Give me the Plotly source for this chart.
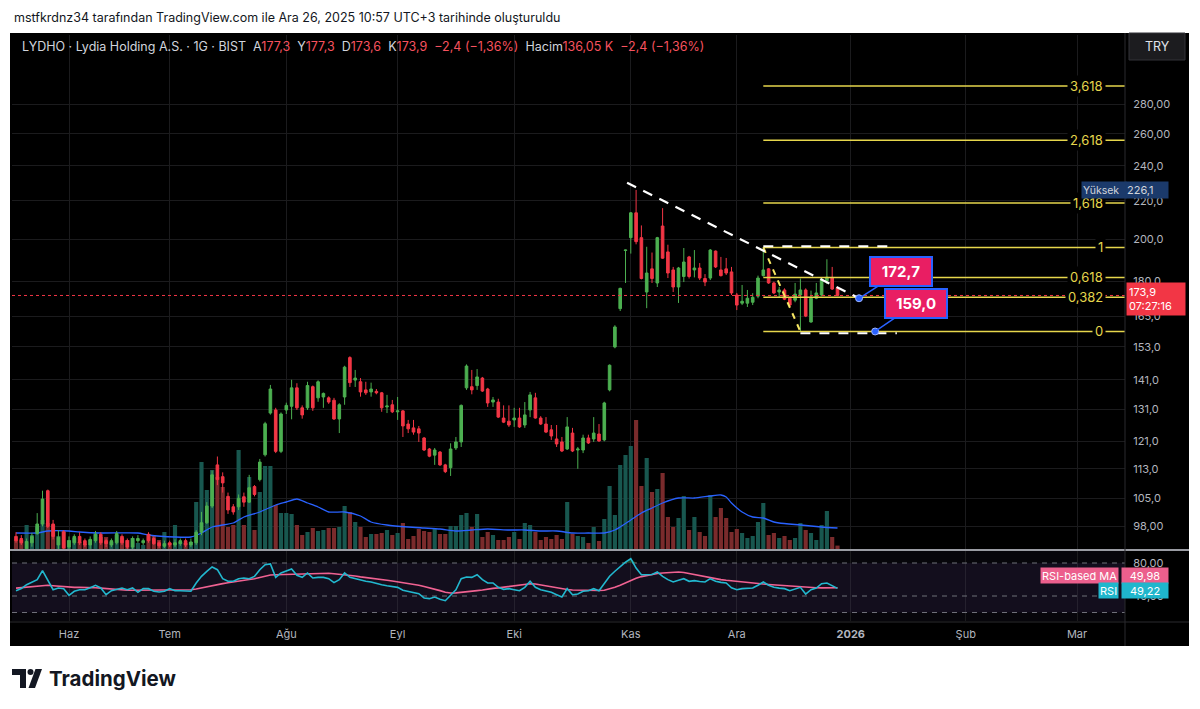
import numpy as np
import plotly.graph_objects as go

# ---------------- data ----------------
opens = [95.5, 95.0, 92.6, 94.0, 96.2, 98.5, 107.0, 98.5, 93.5, 96.6,
         93.0, 94.0, 95.5, 94.5, 93.5, 94.5, 96.0, 94.5, 93.5, 94.0,
         95.5, 94.5, 93.0, 94.5, 94.0, 96.0, 95.0, 94.0, 93.2, 94.0,
         93.5, 93.8, 94.5, 93.5, 94.0, 96.5, 98.8, 103.0, 114.1, 110.8,
         105.5, 102.8, 102.8, 105.4, 104.0, 108.1, 110.0, 117.0, 129.8, 130.8,
         118.0, 130.8, 132.0, 138.2, 131.5, 131.5, 138.6, 134.8, 135.1, 134.8,
         134.0, 127.9, 135.1, 149.0, 140.9, 140.3, 137.5, 136.8, 137.0, 136.5,
         131.8, 132.5, 130.2, 130.5, 126.3, 125.1, 124.8, 122.0, 118.7, 116.9,
         117.8, 114.1, 113.3, 119.0, 120.8, 138.2, 138.6, 139.0, 141.6, 137.8,
         133.4, 133.4, 128.2, 127.2, 127.6, 128.2, 126.0, 130.8, 134.8, 128.2,
         126.3, 124.5, 121.7, 120.8, 118.7, 123.5, 118.4, 118.4, 122.0, 121.7,
         123.2, 121.4, 137.5, 153.0, 168.3, 194.5, 200.8, 213.6, 200.8, 175.4,
         185.8, 179.4, 206.7, 193.8, 185.3, 177.6, 182.3, 191.4, 185.3, 186.2,
         181.4, 181.6, 194.2, 185.3, 185.8, 184.4, 174.1, 170.6, 170.6, 171.0,
         173.6, 182.7, 185.8, 179.4, 175.4, 176.3, 172.7, 171.9, 174.1, 176.3,
         162.8, 172.7, 174.1, 180.3, 181.9, 177.3]
highs = [96.5, 95.8, 95.0, 96.3, 101.2, 107.0, 107.3, 99.5, 97.0, 97.0,
         95.5, 96.0, 96.5, 95.0, 95.5, 96.8, 96.5, 95.0, 95.0, 96.8,
         96.0, 95.0, 95.5, 95.8, 95.0, 96.5, 95.5, 94.5, 94.5, 94.5,
         94.8, 95.0, 95.0, 95.0, 97.0, 101.5, 104.0, 112.5, 116.5, 112.0,
         106.5, 103.5, 106.0, 106.5, 111.3, 108.5, 115.8, 127.0, 139.2, 131.5,
         130.0, 133.2, 141.0, 139.8, 132.3, 140.3, 139.0, 140.8, 136.6, 135.3,
         134.8, 133.0, 146.0, 149.5, 144.5, 141.6, 140.3, 140.0, 137.8, 136.8,
         135.8, 134.1, 135.1, 130.8, 127.6, 127.6, 125.7, 122.3, 119.0, 119.0,
         118.1, 114.4, 120.4, 122.3, 132.6, 146.5, 144.5, 144.8, 142.0, 138.2,
         135.1, 134.5, 132.3, 132.3, 131.5, 131.5, 133.4, 136.8, 136.5, 128.8,
         128.5, 126.0, 126.0, 122.3, 128.5, 125.1, 119.3, 123.0, 123.0, 128.5,
         126.3, 133.5, 146.5, 161.5, 177.3, 194.9, 214.0, 226.1, 207.0, 196.3,
         193.5, 201.2, 216.1, 197.3, 186.7, 186.7, 195.7, 191.9, 194.7, 188.5,
         183.4, 195.2, 194.5, 191.4, 190.9, 186.7, 175.0, 178.5, 176.3, 174.9,
         182.7, 196.0, 186.2, 180.0, 177.6, 177.0, 173.1, 179.4, 181.4, 177.0,
         176.0, 179.4, 181.6, 190.3, 186.7, 177.3]
lows = [94.0, 93.5, 92.3, 93.1, 95.9, 97.9, 97.5, 94.8, 92.5, 92.4,
        92.5, 93.5, 93.5, 93.0, 92.6, 94.0, 93.5, 93.0, 93.0, 93.6,
        93.5, 92.5, 92.5, 94.0, 93.5, 94.0, 93.5, 92.8, 92.8, 93.0,
        93.0, 93.3, 93.0, 93.0, 93.5, 95.8, 98.5, 102.5, 108.5, 106.5,
        101.0, 100.8, 102.0, 102.8, 103.8, 105.5, 109.5, 116.5, 129.3, 117.5,
        117.5, 129.5, 127.8, 130.8, 128.0, 130.8, 130.5, 133.5, 131.5, 132.8,
        127.6, 123.5, 132.5, 138.5, 138.5, 135.2, 135.8, 135.2, 136.0, 130.2,
        129.8, 129.8, 127.6, 122.3, 123.5, 123.0, 120.8, 118.1, 116.3, 114.1,
        113.8, 111.8, 111.0, 118.4, 119.3, 137.5, 136.0, 137.5, 136.8, 131.8,
        131.8, 128.2, 126.6, 125.4, 125.4, 125.1, 125.1, 128.5, 128.0, 126.0,
        123.5, 121.4, 119.3, 117.8, 118.4, 117.8, 113.0, 117.5, 120.2, 120.8,
        120.8, 121.0, 137.0, 152.5, 167.3, 179.4, 193.0, 197.5, 181.0, 168.5,
        179.4, 177.6, 190.5, 181.6, 175.4, 170.7, 179.8, 181.4, 181.9, 180.7,
        178.0, 180.7, 186.2, 182.3, 183.0, 174.1, 167.7, 169.8, 169.0, 169.8,
        172.7, 182.3, 179.0, 174.5, 173.1, 171.9, 168.9, 171.0, 159.0, 164.8,
        162.5, 172.3, 173.6, 178.9, 176.3, 173.6]
closes = [94.5, 94.0, 94.3, 95.5, 98.5, 104.8, 97.9, 95.5, 95.3, 92.8,
          94.5, 95.5, 94.0, 93.5, 94.8, 96.0, 94.0, 93.8, 94.5, 96.2,
          94.0, 93.0, 95.0, 95.0, 94.5, 94.5, 93.8, 93.3, 93.8, 93.5,
          94.0, 94.5, 93.5, 94.2, 96.5, 98.8, 103.0, 111.3, 110.0, 109.1,
          102.0, 101.5, 105.0, 104.0, 107.8, 106.0, 114.9, 126.4, 137.8, 118.0,
          129.5, 132.3, 138.2, 131.5, 129.2, 139.0, 131.5, 140.3, 136.3, 133.4,
          127.9, 132.5, 145.5, 140.0, 141.6, 136.8, 136.5, 137.8, 136.5, 131.5,
          132.1, 130.2, 130.5, 125.7, 124.8, 123.8, 123.5, 118.4, 116.6, 118.4,
          114.1, 112.2, 118.7, 120.8, 132.3, 145.9, 137.5, 142.0, 137.1, 133.1,
          134.1, 128.5, 126.9, 126.0, 128.2, 125.4, 129.2, 135.8, 128.2, 126.3,
          123.8, 122.6, 120.2, 118.1, 125.4, 118.1, 118.7, 122.0, 120.5, 123.5,
          121.1, 133.1, 146.2, 160.8, 177.0, 194.7, 213.6, 198.8, 181.4, 183.9,
          181.4, 200.8, 190.8, 183.9, 177.6, 186.2, 189.0, 182.3, 186.2, 181.6,
          179.8, 194.7, 186.7, 182.7, 183.9, 175.0, 169.8, 171.4, 172.7, 173.1,
          181.6, 185.3, 179.4, 175.0, 176.3, 172.3, 169.8, 174.5, 176.3, 165.2,
          172.7, 175.0, 181.1, 182.0, 176.7, 173.9]
volumes_k = [360, 360, 960, 560, 920, 1160, 1040, 960, 520, 760,
             360, 440, 280, 200, 360, 640, 480, 480, 280, 560,
             440, 360, 440, 240, 160, 600, 560, 360, 680, 240,
             960, 280, 240, 280, 1880, 3480, 2360, 3160, 2880, 2480,
             880, 960, 3960, 960, 2880, 760, 2280, 3320, 3320, 1760,
             1440, 1440, 1400, 960, 560, 680, 840, 720, 760, 840,
             840, 880, 1720, 1480, 1080, 880, 480, 600, 600, 640,
             760, 560, 640, 1040, 400, 520, 800, 720, 680, 800,
             600, 600, 920, 920, 1360, 1440, 880, 1400, 480, 680,
             560, 360, 360, 480, 680, 400, 1040, 960, 680, 360,
             480, 400, 560, 400, 1880, 600, 520, 480, 240, 880,
             320, 1200, 2520, 1360, 3360, 3760, 4120, 5160, 2520, 3640,
             2280, 2400, 3040, 1280, 880, 1240, 2120, 760, 1280, 680,
             520, 2160, 1280, 1640, 1240, 680, 800, 640, 440, 520,
             1080, 1840, 560, 640, 440, 520, 360, 440, 1040, 760,
             640, 360, 960, 1520, 480, 136.05]
# volume moving average, read at these bars
vol_ma_bars = [0, 4, 6, 10, 12, 16, 23, 25, 30, 33, 35, 37, 41, 43, 46, 49, 51, 53, 55, 57,
               59, 62, 65, 67, 70, 74, 77, 80, 83, 86, 89, 93, 96, 99, 102, 105, 108, 111, 113, 114,
               116, 118, 120, 122, 125, 128, 131, 133, 134, 135, 137, 139, 141, 143, 144, 148, 152, 155]
vol_ma_k = [640, 640, 720, 720, 680, 640, 640, 560, 480, 480, 640, 880, 1040, 1280, 1480, 1760, 1880, 2000, 1840, 1680,
            1480, 1480, 1320, 1080, 960, 880, 840, 800, 720, 760, 800, 760, 760, 720, 720, 640, 640, 640, 760, 880,
            1160, 1440, 1640, 1840, 2040, 2040, 2120, 2160, 2080, 1840, 1480, 1280, 1240, 1080, 1040, 960, 880, 840]
rsi = [46.4, 49.0, 53.7, 57.0, 59.8, 70.7, 59.8, 47.6, 49.7, 48.9,
       40.8, 45.7, 47.6, 47.6, 50.0, 53.0, 49.7, 41.6, 46.4, 48.0,
       49.7, 47.6, 49.7, 44.5, 48.9, 48.9, 45.7, 44.8, 45.7, 48.9,
       46.4, 46.4, 46.0, 45.7, 55.8, 63.8, 69.9, 75.2, 71.9, 61.0,
       57.8, 57.8, 61.0, 61.8, 61.0, 63.8, 71.9, 77.9, 78.8, 62.6,
       67.9, 69.9, 72.7, 65.1, 62.6, 67.9, 61.8, 62.6, 62.6, 61.0,
       56.2, 59.8, 67.9, 62.6, 61.0, 58.6, 57.8, 57.0, 55.0, 53.7,
       52.5, 51.7, 50.5, 46.9, 45.7, 44.0, 42.8, 37.6, 36.8, 38.8,
       36.0, 34.3, 41.6, 47.6, 61.0, 63.0, 62.6, 65.8, 59.8, 55.8,
       55.8, 50.5, 48.1, 48.9, 47.6, 46.4, 50.5, 57.8, 50.5, 47.6,
       46.0, 44.5, 41.6, 38.8, 48.9, 41.6, 42.4, 45.7, 46.4, 48.9,
       46.4, 55.5, 64.0, 70.0, 76.0, 81.0, 85.2, 73.9, 65.8, 65.8,
       66.0, 69.1, 63.8, 59.8, 57.0, 59.0, 61.0, 57.8, 58.6, 57.5,
       57.0, 61.0, 57.8, 56.5, 55.8, 50.0, 47.6, 48.9, 49.3, 49.7,
       53.0, 57.0, 53.0, 50.5, 49.5, 48.9, 46.4, 48.0, 50.5, 42.4,
       47.6, 49.7, 54.9, 55.8, 53.0, 49.22]
rsi_ma = [49.5, 50.0, 50.5, 51.2, 52.0, 52.6, 53.0, 52.5, 51.8, 51.0,
          50.5, 50.5, 50.5, 50.5, 50.5, 50.0, 49.5, 48.9, 48.4, 48.0,
          47.4, 46.9, 46.9, 46.9, 46.9, 46.9, 47.0, 47.1, 47.2, 47.3,
          47.2, 47.0, 46.9, 47.5, 48.5, 49.8, 51.5, 53.0, 54.0, 55.0,
          56.0, 56.8, 57.8, 58.8, 60.0, 61.0, 62.5, 64.0, 65.5, 65.8,
          66.0, 66.3, 66.7, 67.0, 67.2, 67.5, 67.5, 67.5, 67.5, 67.5,
          67.0, 66.5, 65.8, 65.1, 64.2, 63.2, 62.2, 61.5, 60.6, 59.8,
          59.0, 58.2, 57.2, 56.2, 55.4, 54.5, 53.0, 51.5, 50.0, 48.5,
          46.5, 44.5, 43.6, 43.8, 44.3, 45.0, 45.7, 46.5, 47.3, 48.5,
          49.2, 49.8, 50.6, 51.5, 52.3, 53.0, 53.8, 54.9, 54.5, 53.3,
          52.0, 51.0, 50.0, 49.0, 47.8, 47.3, 47.0, 46.7, 46.4, 46.5,
          46.7, 46.9, 48.5, 50.5, 53.0, 56.0, 59.5, 61.5, 63.5, 65.0,
          66.0, 67.2, 67.9, 68.3, 68.8, 69.1, 68.5, 67.2, 66.0, 64.5,
          62.8, 61.8, 60.8, 59.8, 59.0, 58.3, 57.3, 56.7, 56.0, 55.5,
          55.0, 54.5, 54.0, 53.5, 53.0, 52.4, 51.8, 51.2, 50.9, 50.5,
          50.2, 50.0, 49.9, 49.9, 50.0, 49.98]

month_ticks = [10, 29, 51, 72, 94, 116, 136, 157.5, 179.2, 200.2]
month_labels = ["Haz", "Tem", "Ağu", "Eyl", "Eki", "Kas", "Ara", "<b>2026</b>", "Şub", "Mar"]
price_ticks = [98, 105, 113, 121, 131, 141, 153, 165, 180, 200, 220, 240, 260, 280]
price_ticktext = ["98,00", "105,0", "113,0", "121,0", "131,0", "141,0", "153,0", "165,0",
                  "180,0", "200,0", "220,0", "240,0", "260,00", "280,00"]
rsi_ticks = [40, 80]
rsi_ticktext = ["40,00", "80,00"]
rsi_bands = [80, 40, 20]

# drawings
fib_low, fib_high = 159.0, 196.0
fib_levels = [0, 0.382, 0.618, 1, 1.618, 2.618, 3.618]
fib_labels = ["0", "0,382", "0,618", "1", "1,618", "2,618", "3,618"]
fib_bars = [141, 148]                 # swing high bar, swing low bar
trend_bars = [115.3, 159.06]
trend_prices = [230.2, 172.7]
box_top = ([141, 164.5], 196.6)
box_bot = ([148, 166.2], 158.3)
callout_bars = [159.06, 162.1]
callout_prices = [172.7, 159.0]
last_price = 173.9
high_price = 226.1
header_change = "−2,4 (−1,36%)"

# ---------------- geometry helpers ----------------
W, H = 1200, 709
FONT = "Inter, Roboto, Arial, sans-serif"
def fx(p): return p / W
def fy(p): return 1 - p / H

BAR0, BARW = 16.0, 5.3          # pixel of first bar, pixels per bar
PANE_L, PANE_R = 12, 1125
MAIN_T, MAIN_B = 35, 549
RSI_T, RSI_B = 551, 621
x_lo = (PANE_L - BAR0) / BARW
x_hi = (PANE_R - BAR0) / BARW
# log price scale: 280 at y=104, 402 px per natural-log unit
p_top = 280 * np.exp((104 - MAIN_T) / 402)
p_bot = 280 * np.exp(-(MAIN_B - 104) / 402)
vol_top = (MAIN_B - MAIN_T) * 40
r_top = 40 + (596 - RSI_T) / 0.825
r_bot = 40 - (RSI_B - 596) / 0.825

UP, DN = "#4caf50", "#f23645"
UPV, DNV = "#18574f", "#7a2b2c"
GRID = "#1b1b1d"
AX = "#b2b5be"
FIB = "#e6d64c"

def tr(v, d=1):
    return f"{v:.{d}f}".replace(".", ",")

bars = list(range(len(closes)))
fig = go.Figure()

# volume (base axis, drawn beneath)
vcol = [UPV if c >= o else DNV for o, c in zip(opens, closes)]
fig.add_trace(go.Bar(x=bars, y=volumes_k, marker=dict(color=vcol, line=dict(width=0)),
                     width=0.78, xaxis="x", yaxis="y", hoverinfo="skip"))
fig.add_trace(go.Scatter(x=vol_ma_bars, y=vol_ma_k, mode="lines",
                         line=dict(color="#2962ff", width=1.3, shape="spline", smoothing=0.6),
                         xaxis="x", yaxis="y", hoverinfo="skip"))

# last price dotted line
fig.add_trace(go.Scatter(x=[x_lo, x_hi], y=[last_price, last_price], mode="lines",
                         line=dict(color=DN, width=1, dash="dot"), xaxis="x", yaxis="y2", hoverinfo="skip"))

# fib levels
for lv in fib_levels:
    p = fib_low + lv * (fib_high - fib_low)
    fig.add_trace(go.Scatter(x=[fib_bars[0], x_hi], y=[p, p], mode="lines",
                             line=dict(color=FIB, width=1.5), xaxis="x", yaxis="y2", hoverinfo="skip"))

# candles
fig.add_trace(go.Candlestick(x=bars, open=opens, high=highs, low=lows, close=closes,
                             increasing=dict(line=dict(color=UP, width=1), fillcolor=UP),
                             decreasing=dict(line=dict(color=DN, width=1), fillcolor=DN),
                             whiskerwidth=0, xaxis="x", yaxis="y2", hoverinfo="skip"))

# fib swing connector (yellow dashed)
fig.add_trace(go.Scatter(x=fib_bars, y=[fib_high, fib_low], mode="lines",
                         line=dict(color="#f5e663", width=2, dash="6px,6px"), xaxis="x", yaxis="y2",
                         hoverinfo="skip"))
# white dashed trend line & horizontal range lines
fig.add_trace(go.Scatter(x=trend_bars, y=trend_prices, mode="lines",
                         line=dict(color="#ffffff", width=2.2, dash="10px,8px"), xaxis="x", yaxis="y2",
                         hoverinfo="skip"))
for bx, bp in (box_top, box_bot):
    fig.add_trace(go.Scatter(x=bx, y=[bp, bp], mode="lines",
                             line=dict(color="#ffffff", width=2, dash="10px,9px"), xaxis="x", yaxis="y2",
                             hoverinfo="skip"))
# callout anchor dots
fig.add_trace(go.Scatter(x=callout_bars, y=callout_prices, mode="markers",
                         marker=dict(color="#2962ff", size=7, line=dict(color="#9db4ff", width=1)),
                         xaxis="x", yaxis="y2", hoverinfo="skip"))

# RSI pane
fig.add_trace(go.Scatter(x=[x_lo, x_hi, x_hi, x_lo, x_lo],
                         y=[rsi_bands[2], rsi_bands[2], rsi_bands[0], rsi_bands[0], rsi_bands[2]],
                         mode="lines", fill="toself", fillcolor="rgba(126,87,194,0.10)",
                         line=dict(width=0), xaxis="x2", yaxis="y3", hoverinfo="skip"))
for b in rsi_bands:
    fig.add_trace(go.Scatter(x=[x_lo, x_hi], y=[b, b], mode="lines",
                             line=dict(color="#6f7079", width=1, dash="5px,5px"),
                             xaxis="x2", yaxis="y3", hoverinfo="skip"))
ob_bars = [i for i in bars if rsi[i] > rsi_bands[0] or (i > 0 and rsi[i - 1] > rsi_bands[0]) or
           (i + 1 < len(rsi) and rsi[i + 1] > rsi_bands[0])]
fig.add_trace(go.Scatter(x=ob_bars, y=[rsi_bands[0]] * len(ob_bars), mode="lines",
                         line=dict(width=0), xaxis="x2", yaxis="y3", hoverinfo="skip"))
fig.add_trace(go.Scatter(x=ob_bars, y=[max(rsi[i], rsi_bands[0]) for i in ob_bars], mode="lines",
                         line=dict(width=0), fill="tonexty", fillcolor="rgba(76,175,80,0.35)",
                         xaxis="x2", yaxis="y3", hoverinfo="skip"))
fig.add_trace(go.Scatter(x=bars, y=rsi_ma, mode="lines", line=dict(color="#f06292", width=1.6),
                         xaxis="x2", yaxis="y3", hoverinfo="skip"))
fig.add_trace(go.Scatter(x=bars, y=rsi, mode="lines", line=dict(color="#22b8cf", width=1.6),
                         xaxis="x2", yaxis="y3", hoverinfo="skip"))

# ---------------- layout ----------------
fig.update_layout(
    width=W, height=H, margin=dict(l=0, r=0, t=0, b=0),
    paper_bgcolor="#ffffff", plot_bgcolor="#000000", showlegend=False,
    font=dict(family=FONT, size=11, color=AX),
    xaxis=dict(domain=[fx(PANE_L), fx(PANE_R)], range=[x_lo, x_hi], anchor="y",
               tickvals=month_ticks, showticklabels=False, showgrid=True, gridcolor=GRID,
               zeroline=False, showline=False, rangeslider=dict(visible=False), fixedrange=True),
    yaxis=dict(domain=[fy(MAIN_B), fy(MAIN_T)], range=[0, vol_top], visible=False,
               showgrid=False, fixedrange=True),
    yaxis2=dict(overlaying="y", anchor="x", side="right", type="log",
                range=[np.log10(p_bot), np.log10(p_top)],
                tickvals=price_ticks, ticktext=price_ticktext, showgrid=True, gridcolor=GRID,
                zeroline=False, showline=False, ticks="outside", ticklen=5,
                tickcolor="rgba(0,0,0,0)", tickfont=dict(size=11, color=AX), fixedrange=True),
    xaxis2=dict(domain=[fx(PANE_L), fx(PANE_R)], range=[x_lo, x_hi], anchor="y3",
                tickvals=month_ticks, ticktext=month_labels, showgrid=True, gridcolor=GRID,
                zeroline=False, showline=False, ticks="outside", ticklen=3,
                tickcolor="rgba(0,0,0,0)", tickfont=dict(size=11, color=AX), fixedrange=True),
    yaxis3=dict(domain=[fy(RSI_B), fy(RSI_T)], range=[r_bot, r_top], anchor="x2", side="right",
                tickvals=rsi_ticks, ticktext=rsi_ticktext, showgrid=False, zeroline=False,
                ticks="outside", ticklen=5, tickcolor="rgba(0,0,0,0)",
                tickfont=dict(size=11, color=AX), fixedrange=True),
)

shapes = []
# black chart body
shapes.append(dict(type="rect", xref="paper", yref="paper", x0=fx(10), x1=fx(1189), y0=fy(646), y1=fy(33),
                   fillcolor="#000000", line=dict(width=0), layer="below"))
shapes.append(dict(type="rect", xref="paper", yref="paper", x0=fx(PANE_L), x1=fx(PANE_R), y0=fy(RSI_B), y1=fy(RSI_T),
                   fillcolor="#07060b", line=dict(width=0), layer="below"))
# pane separator
shapes.append(dict(type="line", xref="paper", yref="paper", x0=fx(10), x1=fx(1189), y0=fy(550), y1=fy(550),
                   line=dict(color="#9a9ca3", width=2)))
# price scale separator
shapes.append(dict(type="line", xref="paper", yref="paper", x0=fx(PANE_R), x1=fx(PANE_R), y0=fy(646), y1=fy(33),
                   line=dict(color="#2a2a2e", width=1)))
shapes.append(dict(type="line", xref="paper", yref="paper", x0=fx(10), x1=fx(1189), y0=fy(622), y1=fy(622),
                   line=dict(color="#2a2a2e", width=1)))
# TRY button
shapes.append(dict(type="rect", xref="paper", yref="paper", x0=fx(1129), x1=fx(1185), y0=fy(60), y1=fy(33),
                   fillcolor="#1c1c1f", line=dict(color="#333338", width=1)))
# TradingView logo
def path(pts):
    return "M " + " L ".join(f"{fx(a)},{fy(b)}" for a, b in pts) + " Z"
shapes.append(dict(type="path", xref="paper", yref="paper",
                   path=path([(12, 669), (26, 669), (26, 688), (20, 688), (20, 675), (12, 675)]),
                   fillcolor="#131722", line=dict(width=0)))
shapes.append(dict(type="circle", xref="paper", yref="paper", x0=fx(27.5), x1=fx(33.5), y0=fy(675), y1=fy(669),
                   fillcolor="#131722", line=dict(width=0)))
shapes.append(dict(type="path", xref="paper", yref="paper",
                   path=path([(35.5, 669), (42, 669), (35, 688), (28.5, 688)]),
                   fillcolor="#131722", line=dict(width=0)))
fig.update_layout(shapes=shapes)

ann = []
ann.append(dict(xref="paper", yref="paper", x=fx(12), y=fy(18), xanchor="left", yanchor="middle",
                text="mstfkrdnz34 tarafından TradingView.com ile Ara 26, 2025 10:57 UTC+3 tarihinde oluşturuldu",
                showarrow=False, font=dict(family=FONT, size=12.5, color="#131722")))
G, R = "#d1d4dc", "#f7525f"
sp = "&nbsp;&nbsp;"
vol_txt = tr(volumes_k[-1], 2) + " K"
header = (f"<span style='color:{G}'>LYDHO · Lydia Holding A.S. · 1G · BIST</span>{sp}"
          f"<span style='color:{G}'>A</span><span style='color:{R}'>{tr(opens[-1])}</span>{sp}"
          f"<span style='color:{G}'>Y</span><span style='color:{R}'>{tr(highs[-1])}</span>{sp}"
          f"<span style='color:{G}'>D</span><span style='color:{R}'>{tr(lows[-1])}</span>{sp}"
          f"<span style='color:{G}'>K</span><span style='color:{R}'>{tr(closes[-1])}</span>{sp}"
          f"<span style='color:{R}'>{header_change}</span>{sp}"
          f"<span style='color:{G}'>Hacim</span><span style='color:{R}'>{vol_txt}</span>{sp}"
          f"<span style='color:{R}'>{header_change}</span>")
ann.append(dict(xref="paper", yref="paper", x=fx(20), y=fy(46), xanchor="left", yanchor="middle",
                text=header, showarrow=False, font=dict(family=FONT, size=12.5, color=G)))
ann.append(dict(xref="paper", yref="paper", x=fx(1157), y=fy(46.5), xanchor="center", yanchor="middle",
                text="TRY", showarrow=False, font=dict(family=FONT, size=12.5, color="#e0e3eb")))
ann.append(dict(xref="paper", yref="paper", x=fx(47), y=fy(678), xanchor="left", yanchor="middle",
                text="<b>TradingView</b>", showarrow=False, font=dict(family=FONT, size=20.5, color="#131722")))

# fib labels
for lv, lab in zip(fib_levels, fib_labels):
    p = fib_low + lv * (fib_high - fib_low)
    ann.append(dict(xref="paper", yref="y2", x=fx(1106), y=np.log10(p), xanchor="right", yanchor="middle",
                    text=lab, showarrow=False, bgcolor="#000000", borderpad=2,
                    font=dict(family=FONT, size=13, color=FIB)))

# callouts
for b, p, dx, dy in zip(callout_bars, callout_prices, [42, 41], [-27, -28]):
    ann.append(dict(xref="x", yref="y2", x=b, y=np.log10(p), ax=dx, ay=dy, text=f"<b>{tr(p)}</b>",
                    showarrow=True, arrowhead=0, arrowwidth=1.5, arrowcolor="#2962ff",
                    bgcolor="#e91e63", bordercolor="#2962ff", borderwidth=2, borderpad=4, width=52,
                    font=dict(family=FONT, size=15, color="#ffffff")))

# price scale labels
ann.append(dict(xref="paper", yref="y2", x=fx(1081), y=np.log10(high_price), xanchor="left", yanchor="middle",
                text="Yüksek", showarrow=False, bgcolor="#1b3a6b", width=42, height=14, align="left",
                font=dict(family=FONT, size=10.5, color="#d1d4dc")))
ann.append(dict(xref="paper", yref="y2", x=fx(1125), y=np.log10(high_price), xanchor="left", yanchor="middle",
                text=tr(high_price), showarrow=False, bgcolor="#1b3a6b", width=40, height=14, align="left",
                font=dict(family=FONT, size=11, color="#d1d4dc")))
ann.append(dict(xref="paper", yref="paper", x=fx(1126), y=fy(299), xanchor="left", yanchor="middle",
                text=f"{tr(last_price)}<br>07:27:16", showarrow=False, bgcolor=DN, width=54, align="left",
                borderpad=2, font=dict(family=FONT, size=11, color="#ffffff")))
ann.append(dict(xref="paper", yref="paper", x=fx(1119), y=fy(575), xanchor="right", yanchor="middle",
                text="RSI-based MA", showarrow=False, bgcolor="#ec5f8d", height=13,
                font=dict(family=FONT, size=11, color="#ffffff")))
ann.append(dict(xref="paper", yref="paper", x=fx(1121), y=fy(575), xanchor="left", yanchor="middle",
                text=tr(rsi_ma[-1], 2), showarrow=False, bgcolor="#ec5f8d", width=44, height=13,
                font=dict(family=FONT, size=11, color="#ffffff")))
ann.append(dict(xref="paper", yref="paper", x=fx(1119), y=fy(590), xanchor="right", yanchor="middle",
                text="RSI", showarrow=False, bgcolor="#1fb6cc", height=13,
                font=dict(family=FONT, size=11, color="#ffffff")))
ann.append(dict(xref="paper", yref="paper", x=fx(1121), y=fy(590), xanchor="left", yanchor="middle",
                text=tr(rsi[-1], 2), showarrow=False, bgcolor="#1fb6cc", width=44, height=13,
                font=dict(family=FONT, size=11, color="#ffffff")))
fig.update_layout(annotations=ann)

fig.write_html("out.html")
